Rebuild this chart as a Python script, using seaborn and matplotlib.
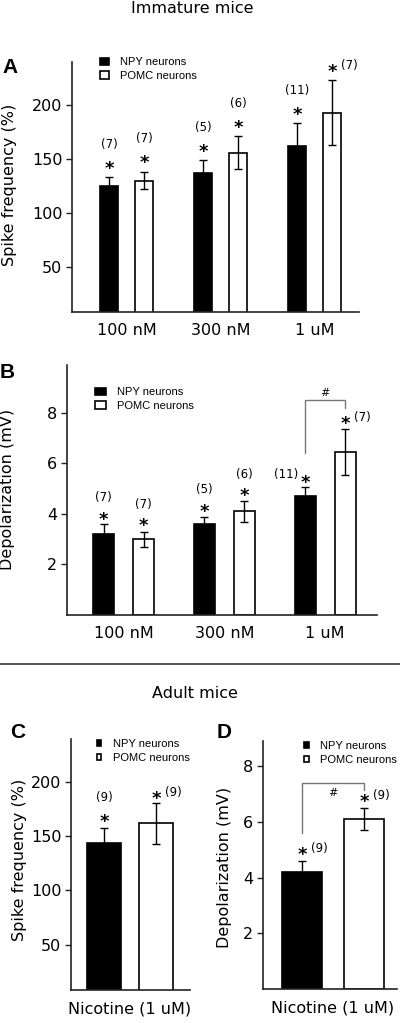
import matplotlib
matplotlib.use('Agg')
import pandas as pd
import matplotlib.pyplot as plt
from matplotlib.lines import Line2D
import seaborn as sns

# DATA
groups = ['NPY neurons', 'POMC neurons']
conc = ['100 nM', '300 nM', '1 uM']
nicotine = ['Nicotine (1 uM)']

# A - immature mice, spike frequency (%)
a_npy = [125, 137, 162]
a_npy_err = [8, 12, 21]
a_pomc = [130, 156, 193]
a_pomc_err = [8, 15, 30]
a_n_npy = ['(7)', '(5)', '(11)']
a_n_pomc = ['(7)', '(6)', '(7)']

# B - immature mice, depolarization (mV)
b_npy = [3.2, 3.6, 4.7]
b_npy_err = [0.4, 0.3, 0.35]
b_pomc = [3.0, 4.1, 6.45]
b_pomc_err = [0.3, 0.4, 0.9]
b_n_npy = ['(7)', '(5)', '(11)']
b_n_pomc = ['(7)', '(6)', '(7)']

# C - adult mice, spike frequency (%)
c_npy = [144]
c_npy_err = [14]
c_pomc = [162]
c_pomc_err = [19]
c_n_npy = ['(9)']
c_n_pomc = ['(9)']

# D - adult mice, depolarization (mV)
d_npy = [4.2]
d_npy_err = [0.4]
d_pomc = [6.1]
d_pomc_err = [0.4]
d_n_npy = ['(9)']
d_n_pomc = ['(9)']

##########################

sns.set_theme(style='ticks')
plt.rcParams['font.family'] = ['DejaVu Sans']
for k in ['text.color', 'axes.labelcolor', 'xtick.color', 'ytick.color']:
    plt.rcParams[k] = 'black'

W, H = 400, 1023
fig = plt.figure(figsize=(W / 100, H / 100), dpi=100)


def fx(px):
    return px / W


def fy(py):
    return 1 - py / H


def make_ax(left, top, right, bottom):
    return fig.add_axes([fx(left), fy(bottom), (right - left) / W, (bottom - top) / H])


def bars(ax, cats, npy, npy_err, pomc, pomc_err, width, gap, xlim, ylim, yticks, ylabel, ylab_xy):
    df = pd.DataFrame({'cond': cats * 2,
                       'group': [groups[0]] * len(cats) + [groups[1]] * len(cats),
                       'value': npy + pomc})
    sns.barplot(data=df, x='cond', y='value', hue='group', order=cats, hue_order=groups,
                palette=['black', 'white'], saturation=1, edgecolor='black', linewidth=1.2,
                width=width, gap=gap, errorbar=None, legend=False, ax=ax)
    conts = list(ax.containers[:2])
    centers = [[p.get_x() + p.get_width() / 2 for p in c] for c in conts]
    ax.errorbar(centers[0], npy, yerr=npy_err, fmt='none', ecolor='black',
                elinewidth=1, capsize=3, capthick=1, zorder=4)
    ax.errorbar(centers[1], pomc, yerr=pomc_err, fmt='none', ecolor='black',
                elinewidth=1, capsize=3, capthick=1, zorder=4)
    ax.set_xlim(xlim)
    ax.set_ylim(ylim)
    ax.set_yticks(yticks)
    ax.set_xlabel('')
    ax.set_ylabel(ylabel, fontsize=11.5)
    ax.yaxis.set_label_coords(fx(ylab_xy[0]), fy(ylab_xy[1]), transform=fig.transFigure)
    sns.despine(ax=ax)
    for s in ['left', 'bottom']:
        ax.spines[s].set_color('#222222')
        ax.spines[s].set_linewidth(1.2)
    ax.tick_params(axis='x', length=0, pad=8, labelsize=11.5)
    ax.tick_params(axis='y', length=4, width=1, pad=3, labelsize=11.5, color='#222222')
    ax.set_facecolor('white')
    return conts, centers


def marks(ax, xs, tops, labels, places, star_dy, label_dy):
    for x, t, lab, pl in zip(xs, tops, labels, places):
        # asterisk glyph sits high in its box, pull it down
        ax.annotate('*', (x, t), xytext=(0, star_dy - 5.5), textcoords='offset pixels',
                    ha='center', va='center', fontsize=13, fontweight='bold')
        if pl == 'up':
            off = (0, label_dy)
        elif pl == 'right':
            off = (17, star_dy + 1)
        else:
            off = (-19, star_dy + 3)
        ax.annotate(lab, (x, t), xytext=off, textcoords='offset pixels',
                    ha='center', va='center', fontsize=8.5)


def legend(ax, conts, x, y, hl, hh):
    ax.legend(handles=conts, labels=groups, loc='upper left',
              bbox_to_anchor=(fx(x), fy(y)), bbox_transform=fig.transFigure,
              frameon=False, borderpad=0, borderaxespad=0, handlelength=hl,
              handleheight=hh, handletextpad=1.0, labelspacing=0.35,
              prop={'family': 'Liberation Sans', 'size': 8})


def bracket(ax, x0, x1, y0, ytop, y1, sharp_y):
    ax.plot([x0, x0, x1, x1], [y0, ytop, ytop, y1], color='#777777', lw=1, clip_on=False)
    ax.text((x0 + x1) / 2, sharp_y, '#', ha='center', va='center', fontsize=8)


# Panel A
axA = make_ax(72, 62, 359, 312)
contsA, cA = bars(axA, conc, a_npy, a_npy_err, a_pomc, a_pomc_err, 0.745, 0.49,
                  (-0.58, 2.47), (8, 240), [50, 100, 150, 200], 'Spike frequency (%)', (17, 185))
marks(axA, cA[0], [v + e for v, e in zip(a_npy, a_npy_err)], a_n_npy, ['up', 'up', 'up'], 14, 33)
marks(axA, cA[1], [v + e for v, e in zip(a_pomc, a_pomc_err)], a_n_pomc, ['up', 'up', 'right'], 14, 33)
legend(axA, contsA, 100, 57, 0.8, 0.6)

# Panel B
axB = make_ax(67, 365, 377, 615)
contsB, cB = bars(axB, conc, b_npy, b_npy_err, b_pomc, b_pomc_err, 0.794, 0.475,
                  (-0.561, 2.516), (0, 9.9), [2, 4, 6, 8], 'Depolarization (mV)', (15, 489))
marks(axB, cB[0], [v + e for v, e in zip(b_npy, b_npy_err)], b_n_npy, ['up', 'up', 'left'], 10, 27)
marks(axB, cB[1], [v + e for v, e in zip(b_pomc, b_pomc_err)], b_n_pomc, ['up', 'up', 'right'], 11, 27)
legend(axB, contsB, 95, 387, 1.0, 0.6)
bracket(axB, cB[0][2], cB[1][2], 6.4, 8.5, 8.2, 8.8)

# Panel C
axC = make_ax(71, 739, 190, 990)
contsC, cC = bars(axC, nicotine, c_npy, c_npy_err, c_pomc, c_pomc_err, 1.04, 0.346,
                  (-0.59, 0.6), (8, 240), [50, 100, 150, 200], 'Spike frequency (%)', (27, 860))
marks(axC, cC[0], [v + e for v, e in zip(c_npy, c_npy_err)], c_n_npy, ['up'], 11, 30)
marks(axC, cC[1], [v + e for v, e in zip(c_pomc, c_pomc_err)], c_n_pomc, ['right'], 9, 30)
legend(axC, contsC, 97, 739, 0.4, 0.55)

# Panel D
axD = make_ax(263, 741, 397, 989)
contsD, cD = bars(axD, nicotine, d_npy, d_npy_err, d_pomc, d_pomc_err, 1.24, 0.34,
                  (-0.70, 0.64), (0, 8.9), [2, 4, 6, 8], 'Depolarization (mV)', (232, 867))
marks(axD, cD[0], [v + e for v, e in zip(d_npy, d_npy_err)], d_n_npy, ['right'], 11, 30)
marks(axD, cD[1], [v + e for v, e in zip(d_pomc, d_pomc_err)], d_n_pomc, ['right'], 11, 30)
legend(axD, contsD, 304, 741, 0.45, 0.55)
bracket(axD, cD[0][0], cD[1][0], 5.6, 7.4, 7.15, 7.05)

# titles, panel letters, separator
fig.text(fx(192), fy(1), 'Immature mice', ha='center', va='top', fontsize=11.5)
fig.text(fx(195), fy(693), 'Adult mice', ha='center', va='center', fontsize=11.5)
for lab, x, y in [('A', 2, 58), ('B', 0, 363), ('C', 10, 723), ('D', 217, 723)]:
    fig.text(fx(x), fy(y), lab, ha='left', va='top', fontsize=15, fontweight='bold',
             family='Liberation Sans')
fig.add_artist(Line2D([0, 1], [fy(664), fy(664)], color='#444444', lw=1.3))

fig.savefig('out.png', dpi=100, facecolor='white')
